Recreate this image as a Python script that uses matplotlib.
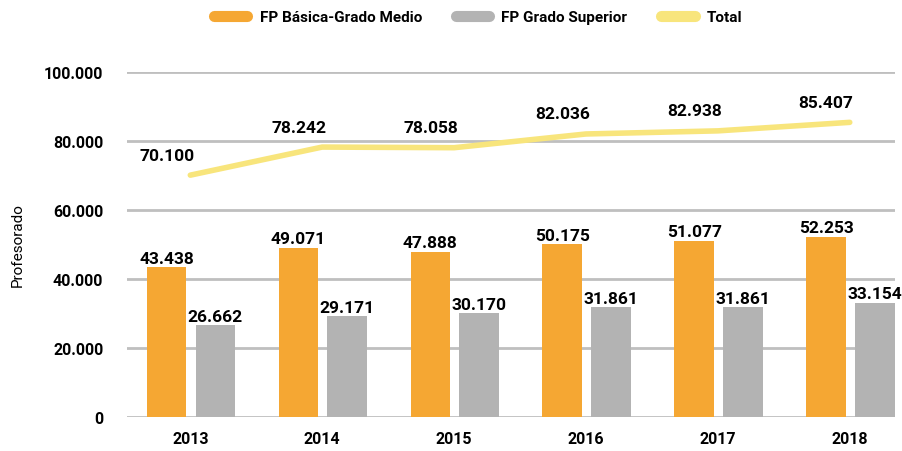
import matplotlib.pyplot as plt
import numpy as np
from matplotlib.lines import Line2D

years = ['2013', '2014', '2015', '2016', '2017', '2018']
fp_medio = [43438, 49071, 47888, 50175, 51077, 52253]
fp_superior = [26662, 29171, 30170, 31861, 31861, 33154]
total = [70100, 78242, 78058, 82036, 82938, 85407]

c_orange = '#F5A733'
c_gray = '#B3B3B3'
c_yellow = '#F8E57C'

plt.rcParams['font.family'] = ['Roboto', 'DejaVu Sans']

def fmt(v):
    return f'{v:,}'.replace(',', '.')

fig = plt.figure(figsize=(9.02, 4.52), dpi=100)
ax = fig.add_axes([0.1408, 0.0752, 0.851, 0.7633])

x = np.arange(len(years))
w = 0.30
b1 = ax.bar(x - 0.18, fp_medio, w, color=c_orange, zorder=3)
b2 = ax.bar(x + 0.19, fp_superior, w, color=c_gray, zorder=3)
ax.plot(x, total, color=c_yellow, lw=4, solid_capstyle='round', zorder=4)

for xi, v in zip(x, fp_medio):
    ax.annotate(fmt(v), (xi - 0.18, v), xytext=(0, 1), textcoords='offset points',
                ha='center', va='bottom', fontsize=12.5, fontweight='bold')
for xi, v in zip(x, fp_superior):
    ax.annotate(fmt(v), (xi + 0.19, v), xytext=(0, 1), textcoords='offset points',
                ha='center', va='bottom', fontsize=12.5, fontweight='bold')
for xi, v in zip(x, total):
    ax.annotate(fmt(v), (xi, v), xytext=(-17, 9), textcoords='offset points',
                ha='center', va='bottom', fontsize=12.5, fontweight='bold')

ax.set_ylim(0, 100000)
ax.set_xlim(-0.48, 5.34)
yt = np.arange(0, 100001, 20000)
ax.set_yticks(yt)
ax.set_yticklabels([fmt(v) for v in yt], fontsize=11.5, fontweight='bold')
ax.set_xticks(x)
ax.set_xticklabels(years, fontsize=11.5, fontweight='bold')
ax.tick_params(axis='y', length=0, pad=17)
ax.tick_params(axis='x', length=0, pad=10)
ax.grid(axis='y', color='#BFBFBF', lw=2, zorder=0)
for s in ax.spines.values():
    s.set_visible(False)
ax.set_ylabel('Profesorado', fontsize=11, labelpad=14)

handles = [Line2D([], [], color=c, lw=8, solid_capstyle='round') for c in (c_orange, c_gray, c_yellow)]
fig.legend(handles, ['FP Básica-Grado Medio', 'FP Grado Superior', 'Total'],
           loc='center', bbox_to_anchor=(0.53, 0.96), ncol=3, frameon=False,
           prop={'weight': 'bold', 'size': 11}, handlelength=2.2, columnspacing=2.2)

fig.savefig('out.png', dpi=100)
